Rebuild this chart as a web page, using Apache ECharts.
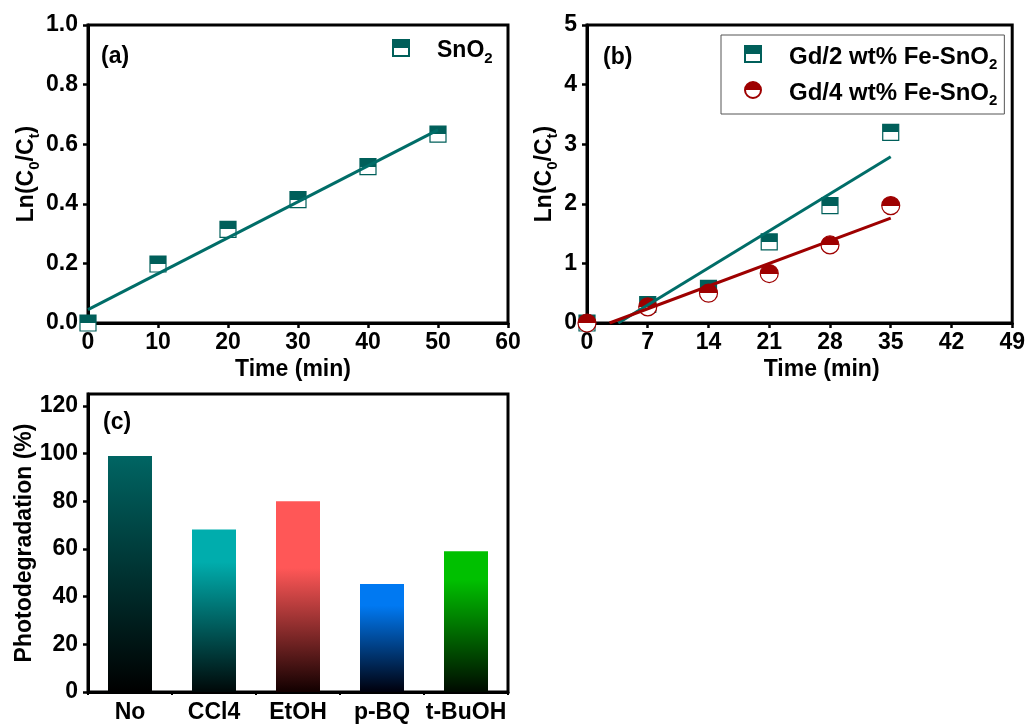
<!DOCTYPE html>
<html>
<head>
<meta charset="utf-8">
<script src="https://cdn.jsdelivr.net/npm/echarts@6/dist/echarts.min.js"></script>
<style>
  html, body { margin: 0; padding: 0; background: #fff; }
  #chart { width: 1028px; height: 724px; }
</style>
</head>
<body>
<div id="chart"></div>
<script>
// (a) SnO2 kinetics
const timeA = [0, 10, 20, 30, 40, 50];
const lnSnO2 = [0, 0.198, 0.314, 0.414, 0.525, 0.634];
const fitSnO2 = [[0, 0.045], [50, 0.648]];

// (b) Gd / Fe-SnO2 kinetics
const timeB = [0, 7, 14, 21, 28, 35];
const lnGd2 = [0, 0.31, 0.58, 1.36, 1.97, 3.2];
const lnGd4 = [0, 0.27, 0.5, 0.83, 1.31, 1.97];
const fitGd2 = [[3.6, 0], [35, 2.79]];
const fitGd4 = [[2.6, 0], [35, 1.76]];

// (c) scavenger test
const scavengers = ['No', 'CCl4', 'EtOH', 'p-BQ', 't-BuOH'];
const degradation = [99, 68.2, 80, 45.3, 59];

// colours
const teal = '#005f5a';
const tealLine = '#006d68';
const red = '#9e0000';
const barTop = ['#006563', '#00adad', '#ff5757', '#0079f2', '#00c000'];
const barBottom = ['#000000', '#000808', '#120000', '#00000c', '#000a00'];
const barFlat = [0, 0.2, 0.35, 0.2, 0.2];

const FONT = 'Liberation Sans, Arial, sans-serif';

function halfFill(c) {
    return new echarts.graphic.LinearGradient(0, 0, 0, 1, [
        { offset: 0, color: c },
        { offset: 0.5, color: c },
        { offset: 0.5, color: '#fff' },
        { offset: 1, color: '#fff' }
    ]);
}

function pairs(xs, ys) {
    return xs.map((x, i) => [x, ys[i]]);
}

// subscript = token pushed down by its top padding
function makeRich(size, shift) {
    return {
        main: { fontSize: size, fontWeight: 'bold', fontFamily: FONT, color: '#000',
            lineHeight: 24, verticalAlign: 'top', padding: [shift, 0, 0, 0] },
        sub: { fontSize: 15, fontWeight: 'bold', fontFamily: FONT, color: '#000',
            lineHeight: 17, verticalAlign: 'top', padding: [shift + 12, 0, 0, 0] },
        gap: { width: 23 }
    };
}

let labelStyle = { fontSize: 23, fontWeight: 'bold', fontFamily: FONT, color: '#000' };

function baseAxis(extra) {
    let axis = {
        axisLine: { onZero: false, lineStyle: { color: '#000', width: 3 } },
        axisTick: { length: 5, lineStyle: { color: '#000', width: 2.5 } },
        axisLabel: Object.assign({ margin: 8 }, labelStyle),
        splitLine: { show: false },
        nameLocation: 'middle',
        nameTextStyle: Object.assign({ rich: makeRich(23, 0) }, labelStyle)
    };
    return Object.assign(axis, extra);
}

let gridStyle = { show: true, borderColor: '#000', borderWidth: 3, backgroundColor: 'transparent' };

let option = {
    animation: false,
    backgroundColor: '#fff',
    grid: [
        Object.assign({ left: 88, top: 25, width: 420, height: 298 }, gridStyle),
        Object.assign({ left: 587, top: 25, width: 426, height: 298 }, gridStyle),
        Object.assign({ left: 88, top: 394, width: 420, height: 299 }, gridStyle)
    ],
    xAxis: [
        baseAxis({ gridIndex: 0, type: 'value', min: 0, max: 60, interval: 10,
            name: 'Time (min)', nameGap: 35,
            nameTextStyle: Object.assign({ padding: [0, 10, 0, 0] }, labelStyle) }),
        baseAxis({ gridIndex: 1, type: 'value', min: 0, max: 49, interval: 7,
            name: 'Time (min)', nameGap: 35,
            nameTextStyle: Object.assign({ padding: [0, 0, 0, 44] }, labelStyle) }),
        baseAxis({ gridIndex: 2, type: 'category', data: scavengers,
            axisTick: { alignWithLabel: true, length: 5, lineStyle: { color: '#000', width: 2.5 } },
            axisLabel: Object.assign({ margin: 9, interval: 0 }, labelStyle) }),
        {
            gridIndex: 2, type: 'value', position: 'bottom', min: 0, max: 5, interval: 1,
            axisLine: { show: false },
            axisTick: { show: true, length: 3, lineStyle: { color: '#000', width: 2 } },
            axisLabel: { show: false },
            splitLine: { show: false }
        }
    ],
    yAxis: [
        baseAxis({ gridIndex: 0, type: 'value', min: 0, max: 1, interval: 0.2,
            name: '{main|Ln(C}{sub|0}{main|/C}{sub|t}{main|)}', nameGap: 45,
            axisLabel: Object.assign({ margin: 10, formatter: v => v.toFixed(1) }, labelStyle) }),
        baseAxis({ gridIndex: 1, type: 'value', min: 0, max: 5, interval: 1,
            name: '{main|Ln(C}{sub|0}{main|/C}{sub|t}{main|)}', nameGap: 28,
            axisLabel: Object.assign({ margin: 10 }, labelStyle) }),
        baseAxis({ gridIndex: 2, type: 'value', min: 0, max: 125, interval: 20,
            name: 'Photodegradation (%)', nameGap: 51,
            axisLabel: Object.assign({ margin: 10, showMaxLabel: false }, labelStyle) })
    ],
    legend: [
        {
            left: 392, top: 36, padding: 0, itemWidth: 16, itemHeight: 16,
            data: ['SnO2'],
            formatter: () => '{gap|}{main|SnO}{sub|2}',
            textStyle: { rich: makeRich(23, 3) }
        },
        {
            left: 721, top: 35, orient: 'vertical', itemWidth: 16, itemHeight: 16, itemGap: 6,
            padding: [7, 7, 6, 23], borderColor: '#555', borderWidth: 1,
            data: ['Gd/2 wt% Fe-SnO2', 'Gd/4 wt% Fe-SnO2'],
            formatter: name => '{gap|}{main|' + name.replace('SnO2', 'SnO') + '}{sub|2}',
            textStyle: { rich: makeRich(24, 3) }
        }
    ],
    graphic: [
        { type: 'text', left: 101, top: 45, style: { text: '(a)', font: 'bold 23px ' + FONT, fill: '#000' } },
        { type: 'text', left: 603, top: 46, style: { text: '(b)', font: 'bold 23px ' + FONT, fill: '#000' } },
        { type: 'text', left: 103, top: 411, style: { text: '(c)', font: 'bold 23px ' + FONT, fill: '#000' } }
    ],
    series: [
        {
            name: 'SnO2', type: 'scatter', xAxisIndex: 0, yAxisIndex: 0,
            data: pairs(timeA, lnSnO2), symbol: 'rect', symbolSize: 16, clip: false,
            itemStyle: { color: halfFill(teal), borderColor: teal, borderWidth: 1.2, opacity: 1 }
        },
        {
            type: 'line', xAxisIndex: 0, yAxisIndex: 0, data: fitSnO2, symbol: 'none', z: 5,
            lineStyle: { color: tealLine, width: 3 }
        },
        {
            name: 'Gd/2 wt% Fe-SnO2', type: 'scatter', xAxisIndex: 1, yAxisIndex: 1,
            data: pairs(timeB, lnGd2), symbol: 'rect', symbolSize: 16, clip: false,
            itemStyle: { color: halfFill(teal), borderColor: teal, borderWidth: 1.2, opacity: 1 }
        },
        {
            name: 'Gd/4 wt% Fe-SnO2', type: 'scatter', xAxisIndex: 1, yAxisIndex: 1,
            data: pairs(timeB, lnGd4), symbol: 'circle', symbolSize: 18, clip: false,
            itemStyle: { color: halfFill(red), borderColor: red, borderWidth: 1.2, opacity: 1 }
        },
        {
            type: 'line', xAxisIndex: 1, yAxisIndex: 1, data: fitGd2, symbol: 'none', z: 5,
            lineStyle: { color: tealLine, width: 3 }
        },
        {
            type: 'line', xAxisIndex: 1, yAxisIndex: 1, data: fitGd4, symbol: 'none', z: 5,
            lineStyle: { color: red, width: 3 }
        },
        {
            type: 'bar', xAxisIndex: 2, yAxisIndex: 2, barWidth: 44,
            data: degradation.map((v, i) => ({
                value: v,
                itemStyle: {
                    color: new echarts.graphic.LinearGradient(0, 0, 0, 1, [
                        { offset: 0, color: barTop[i] },
                        { offset: barFlat[i], color: barTop[i] },
                        { offset: 1, color: barBottom[i] }
                    ])
                }
            }))
        }
    ]
};

let myChart = echarts.init(document.getElementById('chart'));
myChart.setOption(option);
</script>
</body>
</html>
